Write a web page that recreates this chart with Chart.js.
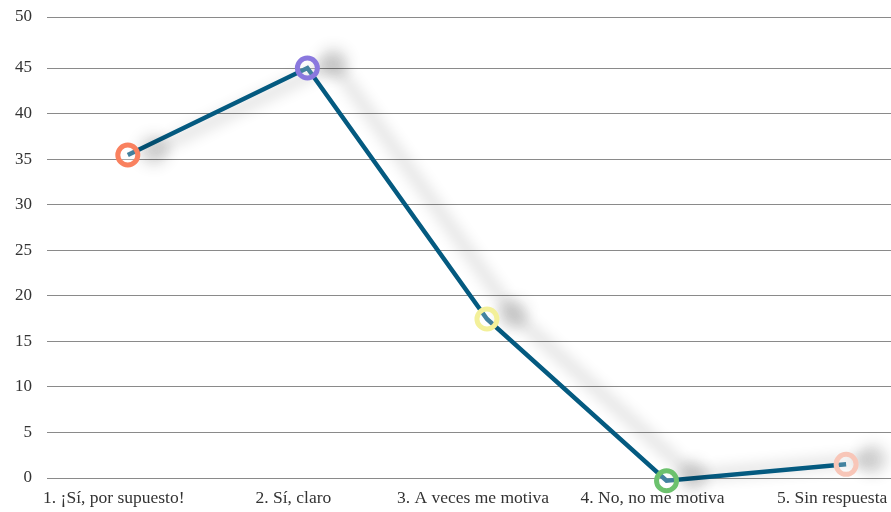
<!DOCTYPE html>
<html>
<head>
<meta charset="utf-8">
<script src="https://cdn.jsdelivr.net/npm/chart.js@4"></script>
<style>
  html, body { margin: 0; padding: 0; background: #fff; overflow: hidden; }
  canvas { display: block; }
</style>
</head>
<body>
<canvas id="myChart" width="891" height="512"></canvas>
<script>
const categories = [
  "1. ¡Sí, por supuesto!",
  "2. Sí, claro",
  "3. A veces me motiva",
  "4. No, no me motiva",
  "5. Sin respuesta"
];
const values = [35.45, 45, 17.45, -0.3, 1.5];
const pointColors = ["#f9815f", "#8a78de", "#f3f09a", "#6cc16d", "#f8c6b8"];
const yTicks = [0, 5, 10, 15, 20, 25, 30, 35, 40, 45, 50];

// soft grey shadow under the line, offset to the right
const shadowPlugin = {
  id: "lineShadow",
  beforeDatasetDraw(chart) {
    const c = chart.ctx;
    c.save();
    c.shadowColor = "rgba(0,0,0,0.3)";
    c.shadowBlur = 15;
    c.shadowOffsetX = 26;
    c.shadowOffsetY = -5;
  },
  afterDatasetDraw(chart) {
    chart.ctx.restore();
  }
};

const noPad = (axis) => {
  axis.paddingLeft = 0;
  axis.paddingRight = 0;
  axis.paddingTop = 0;
  axis.paddingBottom = 0;
};

const ctx = document.getElementById("myChart");

new Chart(ctx, {
  type: "line",
  data: {
    datasets: [
      {
        data: values.map((v, i) => ({ x: i, y: v })),
        borderColor: "#045a80",
        borderWidth: 4.5,
        tension: 0,
        clip: false,
        pointRadius: 10,
        pointBorderWidth: 5,
        pointBorderColor: pointColors,
        pointBackgroundColor: "rgba(255,255,255,0.25)",
        pointHoverRadius: 10,
      },
    ],
  },
  plugins: [shadowPlugin],
  options: {
    responsive: false,
    animation: false,
    layout: {
      autoPadding: false,
      padding: { top: 17, right: 0, bottom: -7, left: 0 },
    },
    plugins: {
      legend: { display: false },
      tooltip: { enabled: false },
    },
    scales: {
      x: {
        type: "linear",
        min: -0.45,
        max: 4.25,
        afterBuildTicks: (axis) => {
          axis.ticks = categories.map((c, i) => ({ value: i }));
        },
        afterFit: noPad,
        grid: { display: false, drawTicks: false },
        border: { display: false },
        ticks: {
          callback: (v) => categories[v],
          color: "#333",
          font: { family: "Liberation Serif", size: 17.5 },
          padding: 10,
          labelOffset: -14,
          maxRotation: 0,
          autoSkip: false,
        },
      },
      y: {
        min: 0,
        max: 50.6,
        // the top line sits at the very top of the plot, as in the original
        afterBuildTicks: (axis) => {
          axis.ticks = yTicks.map((v, i) => ({
            value: i === yTicks.length - 1 ? axis.max : v,
          }));
        },
        afterFit: noPad,
        grid: { color: "#8a8a8a", lineWidth: 1, drawTicks: false },
        border: { display: false },
        ticks: {
          callback: (v, i) => yTicks[i],
          color: "#333",
          font: { family: "Liberation Serif", size: 17 },
          padding: 15,
        },
      },
    },
  },
});
</script>
</body>
</html>
